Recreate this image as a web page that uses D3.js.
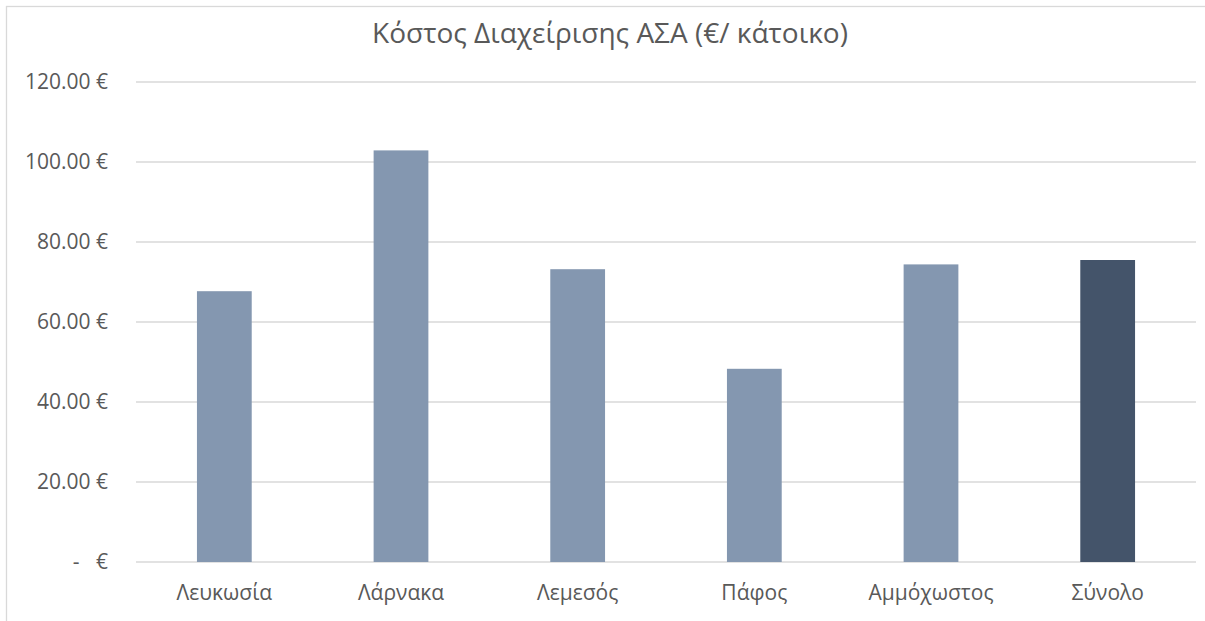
<!DOCTYPE html>
<html>
<head>
<meta charset="utf-8">
<script src="https://cdn.jsdelivr.net/npm/d3@7"></script>
<style>
  html, body { margin: 0; padding: 0; background: #fff; }
  svg { display: block; font-family: "Open Sans", "Noto Sans", sans-serif; }
  .ylab { white-space: pre; }
</style>
</head>
<body>
<svg id="chart" width="1205" height="621"></svg>
<script>
// Cost of municipal solid waste management per resident, by district
const categories = ["Λευκωσία", "Λάρνακα", "Λεμεσός", "Πάφος", "Αμμόχωστος", "Σύνολο"];
const costPerResident = [67.7, 102.9, 73.2, 48.3, 74.4, 75.5];
const yTicks = [0, 20, 40, 60, 80, 100, 120];
const title = "Κόστος Διαχείρισης ΑΣΑ (€/ κάτοικο)";

const svg = d3.select("#chart");
const W = 1205, H = 621;
const plot = { left: 136, right: 1196, top: 82, bottom: 562 };

// chart frame
svg.append("rect")
  .attr("x", 6.5).attr("y", 6.5)
  .attr("width", W + 20).attr("height", H + 20)
  .attr("fill", "#fff").attr("stroke", "#d9d9d9").attr("stroke-width", 1.3);

const x = d3.scaleBand()
  .domain(categories)
  .range([plot.left, plot.right])
  .paddingInner(0.69).paddingOuter(0.345);

const y = d3.scaleLinear()
  .domain([0, 120])
  .range([plot.bottom, plot.top]);

// horizontal gridlines
svg.append("g")
  .selectAll("line")
  .data(yTicks)
  .join("line")
  .attr("x1", plot.left).attr("x2", plot.right)
  .attr("y1", d => y(d)).attr("y2", d => y(d))
  .attr("stroke", "#d9d9d9").attr("stroke-width", 1.3);

// value axis labels in accounting style
const fmt = d => d === 0 ? "  -   €" : d3.format(".2f")(d) + " €";
svg.append("g")
  .selectAll("text")
  .data(yTicks)
  .join("text")
  .attr("class", "ylab")
  .attr("x", 108)
  .attr("y", d => y(d))
  .attr("dy", "0.35em")
  .attr("text-anchor", "end")
  .attr("font-size", 21)
  .attr("fill", "#595959")
  .text(fmt);

// bars
svg.append("g")
  .selectAll("rect")
  .data(categories.map((c, i) => ({ c, v: costPerResident[i] })))
  .join("rect")
  .attr("x", d => x(d.c))
  .attr("width", x.bandwidth())
  .attr("y", d => y(d.v))
  .attr("height", d => y(0) - y(d.v))
  .attr("fill", d => d.c === "Σύνολο" ? "#44546a" : "#8497b0");

// category labels
svg.append("g")
  .selectAll("text")
  .data(categories)
  .join("text")
  .attr("x", d => x(d) + x.bandwidth() / 2)
  .attr("y", 600)
  .attr("text-anchor", "middle")
  .attr("font-size", 21)
  .attr("fill", "#595959")
  .text(d => d);

// title
svg.append("text")
  .attr("x", 610)
  .attr("y", 43)
  .attr("text-anchor", "middle")
  .attr("font-size", 28)
  .attr("fill", "#595959")
  .text(title);
</script>
</body>
</html>
